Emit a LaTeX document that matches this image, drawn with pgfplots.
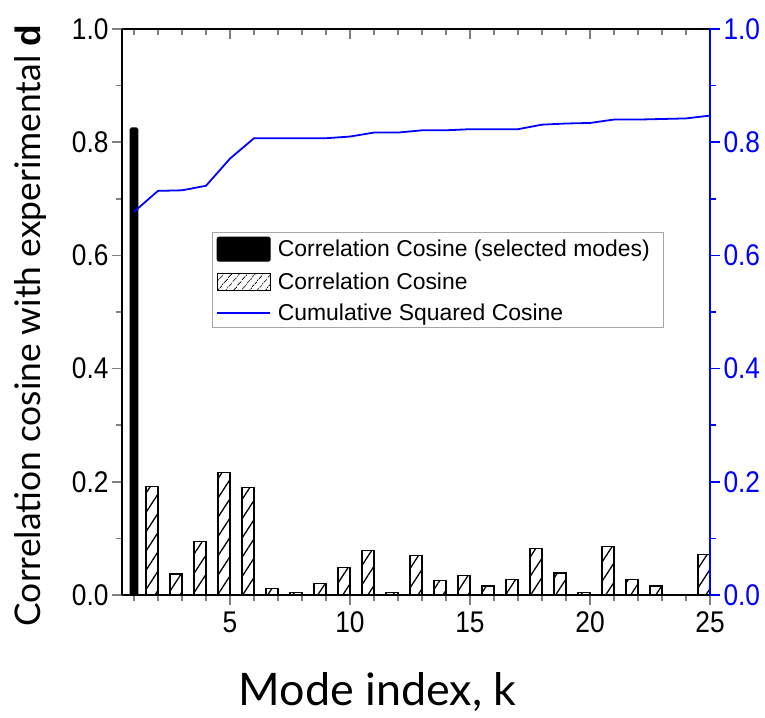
\documentclass[border=0pt]{standalone}
\usepackage{fontspec}
\setmainfont{Lato}
\newfontfamily\tickfont[FakeStretch=0.88]{Liberation Sans}
\newfontfamily\legfont{Liberation Sans}
\usepackage{pgfplots}
\usepackage{pgfplotstable}
\pgfplotsset{compat=1.18}
\usetikzlibrary{patterns.meta}

% selected mode (black bar)
\pgfplotstableread{
k val
1 0.825
}\selected

% remaining modes (hatched bars)
\pgfplotstableread{
k val
2 0.191
3 0.037
4 0.094
5 0.216
6 0.190
7 0.011
8 0.004
9 0.021
10 0.048
11 0.079
12 0.004
13 0.070
14 0.025
15 0.035
16 0.016
17 0.028
18 0.082
19 0.039
20 0.004
21 0.086
22 0.028
23 0.016
24 0.000
25 0.071
}\others

% cumulative squared cosine
\pgfplotstableread{
k val
1 0.677
2 0.714
3 0.715
4 0.723
5 0.771
6 0.807
7 0.807
8 0.807
9 0.807
10 0.810
11 0.817
12 0.817
13 0.821
14 0.821
15 0.823
16 0.823
17 0.823
18 0.831
19 0.833
20 0.834
21 0.840
22 0.840
23 0.841
24 0.842
25 0.847
}\cumul

\pgfplotsset{
  base/.style={
    scale only axis, width=588bp, height=566bp,
    at={(0,0)}, anchor=south west,
    xmin=0.5, xmax=25, ymin=0, ymax=1,
    xtick={5,10,15,20,25}, minor xtick={1,...,25},
    ytick={0,0.2,0.4,0.6,0.8,1}, minor ytick={0.1,0.3,0.5,0.7,0.9},
    major tick length=10bp, minor tick length=6bp,
    axis line style={line width=1.8bp},
    tick style={line width=1.6bp},
    ticklabel style={font=\fontsize{30}{30}\selectfont\tickfont},
    /pgf/number format/assume math mode=true,
    yticklabel style={/pgf/number format/fixed, /pgf/number format/fixed zerofill,
      /pgf/number format/precision=1},
  },
}

\begin{document}
\begin{tikzpicture}
\begin{axis}[base,
  axis x line*=bottom, axis y line*=left, tick align=outside,
  xticklabel style={yshift=-3bp},
  ylabel={Correlation cosine with experimental {\legfont\bfseries d}},
  ylabel style={at={(axis description cs:-0.139,0.476)}, anchor=base,
    font=\fontsize{35.5}{35.5}\selectfont},
  xlabel={Mode index, k},
  xlabel style={at={(axis description cs:0.435,0)}, anchor=base, yshift=-110bp,
    font=\fontsize{45}{45}\selectfont},
]
\addplot[ybar, bar width=0.3, bar shift=0, fill=black, draw=black,
  line width=1.5bp, rounded corners=1.5bp] table[x=k, y=val] {\selected};
\addplot[ybar, bar width=0.5, bar shift=-0.25, draw=black, line width=1.2bp,
  pattern={Lines[angle=57, distance=10.5bp, line width=1.3bp]}] table[x=k, y=val] {\others};
\end{axis}

\begin{axis}[base,
  axis x line*=top, axis y line=none, tick align=inside,
  xticklabels={}, ytick=\empty, minor ytick={},
]
\end{axis}

\begin{axis}[base,
  axis x line=none, axis y line*=right, tick align=outside,
  xtick=\empty, minor xtick={},
  y axis line style={blue},
  tick style={blue, line width=1.6bp},
  yticklabel style={text=blue},
  legend style={at={(0.153,0.641)}, anchor=north west, draw=gray!70,
    line width=1bp, font=\fontsize{23}{23}\selectfont\legfont,
    cells={anchor=west}, row sep=9bp, inner sep=4bp,
    /tikz/every odd column/.append style={column sep=5bp}},
]
\addlegendimage{legend image code/.code={
  \draw[fill=black, draw=black, rounded corners=2bp] (0bp,-12bp) rectangle (53bp,12bp);}}
\addlegendentry{Correlation Cosine (selected modes)\hspace*{8bp}}
\addlegendimage{legend image code/.code={
  \draw[line width=1bp, pattern={Lines[angle=50, distance=6bp, line width=0.9bp]}]
    (0bp,-8.5bp) rectangle (53bp,8.5bp);}}
\addlegendentry{Correlation Cosine}
\addplot[blue, line width=1.8bp,
  legend image code/.code={\draw[blue, line width=1.4bp] (0bp,0bp) -- (53bp,0bp);}]
  table[x=k, y=val] {\cumul};
\addlegendentry{\raisebox{0pt}[\height][18bp]{Cumulative Squared Cosine}}
\end{axis}

\pgfresetboundingbox
\useasboundingbox (-122bp,-123bp) rectangle (643bp,595bp);
\end{tikzpicture}
\end{document}
